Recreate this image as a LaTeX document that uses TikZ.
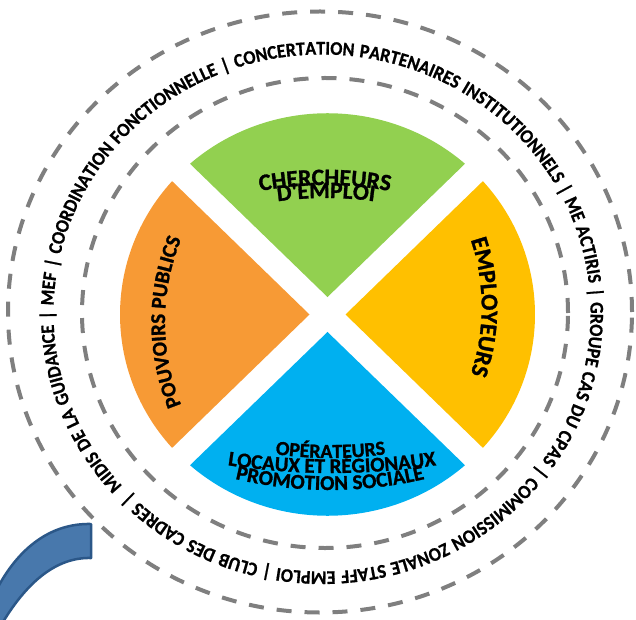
\documentclass[tikz,border=0pt]{standalone}
\usepackage{fontspec}
\setmainfont{Carlito}
\newfontface\ringfont[FakeStretch=0.93,FakeBold=0.8]{Carlito Bold}
\newfontface\labelfont[FakeBold=1.2]{Carlito Bold}
\usetikzlibrary{calc,decorations.text}
\definecolor{cgreen}{HTML}{92D050}
\definecolor{corange}{HTML}{F79A35}
\definecolor{cyellow}{HTML}{FFC000}
\definecolor{cblue}{HTML}{00B0F0}
\definecolor{carrow}{HTML}{4878AC}
\definecolor{carrowline}{HTML}{2B5788}
\definecolor{cdash}{HTML}{7F7F7F}
\begin{document}
\begin{tikzpicture}[x=1pt,y=1pt,
  ringline/.style={draw=cdash, line width=4pt, dash pattern=on 15pt off 13pt},
  arrowband/.style={fill=carrow, draw=carrowline, line width=2.5pt, line join=round}]
\useasboundingbox (0,0) rectangle (636,619);
\coordinate (O) at (327.5,304.5);
\coordinate (Ci) at (325,306);
\coordinate (Co) at (320,307);
\coordinate (Ct) at (322,306);

% dashed rings
\draw[ringline] (Co) ellipse [x radius=312, y radius=300.5];
\draw[ringline] (Ci) ellipse [x radius=243, y radius=235];

% wedges
\begin{scope}[shift={(O)}, yscale=0.97]
  \fill[cgreen]  (90:18)  -- (48.5:207.5)  arc[start angle=48.5,  end angle=131.5, radius=207.5] -- cycle;
  \fill[corange] (180:18) -- (138.5:207.5) arc[start angle=138.5, end angle=221.5, radius=207.5] -- cycle;
  \fill[cblue]   (270:18) -- (228.5:207.5) arc[start angle=228.5, end angle=311.5, radius=207.5] -- cycle;
  \fill[cyellow] (0:18)   -- (-41.5:207.5) arc[start angle=-41.5, end angle=41.5,  radius=207.5] -- cycle;
\end{scope}

% ring text
\path[decorate, decoration={text along path, text format delimiters={[}{]},
  text={[\ringfont\fontsize{19.3}{19.3}\selectfont]MIDIS DE LA GUIDANCE | MEF | COORDINATION FONCTIONNELLE | CONCERTATION PARTENAIRES INSTITUTIONNELS | ME ACTIRIS | GROUPE CAS DU CPAS | COMMISSION ZONALE STAFF EMPLOI | CLUB DES CADRES |},
  text align={fit to path stretching spaces}}]
  ($(Ct)+(222:268.5 and 258.5)$) arc[start angle=222, end angle=-136, x radius=268.5, y radius=258.5];

% sector labels
\path[decorate, decoration={text along path, text={|\labelfont\fontsize{23.5}{23.5}\selectfont|CHERCHEURS}, text align=center}]
  ($(325,84)+(110:350)$) arc[start angle=110, end angle=70, radius=350];
\path[decorate, decoration={text along path, text={|\labelfont\fontsize{23.5}{23.5}\selectfont|D'EMPLOI}, text align=center}]
  ($(326,71)+(110:350)$) arc[start angle=110, end angle=70, radius=350];
\path[decorate, decoration={text along path, text={|\labelfont\fontsize{21}{21}\selectfont|POUVOIRS PUBLICS}, text align=center}]
  ($(385,297)+(210:220)$) arc[start angle=210, end angle=150, radius=220];
\path[decorate, decoration={text along path, text={|\labelfont\fontsize{24}{24}\selectfont|EMPLOYEURS}, text align=center}]
  ($(271.7,312)+(25:210)$) arc[start angle=25, end angle=-25, radius=210];
\path[decorate, decoration={text along path, text={|\labelfont\fontsize{20}{20}\selectfont|OPÉRATEURS}, text align=center}]
  ($(330.5,561)+(260:400)$) arc[start angle=260, end angle=280, radius=400];
\path[decorate, decoration={text along path, text={|\labelfont\fontsize{21}{21}\selectfont|LOCAUX ET RÉGIONAUX}, text align=center}]
  ($(332,846)+(260:700)$) arc[start angle=260, end angle=280, radius=700];
\path[decorate, decoration={text along path, text={|\labelfont\fontsize{21}{21}\selectfont|PROMOTION SOCIALE}, text align=center}]
  ($(330,541)+(255:412)$) arc[start angle=255, end angle=285, radius=412];

% blue curved band
\begin{scope}
  \clip (0,0) rectangle (636,619);
  \filldraw[arrowband] (91,95) -- (91,61) .. controls (55,62) and (25,35) .. (0,-8)
     -- (-15,-8) -- (-8,20) .. controls (15,70) and (50,96) .. (91,95) -- cycle;
\end{scope}
\end{tikzpicture}
\end{document}
